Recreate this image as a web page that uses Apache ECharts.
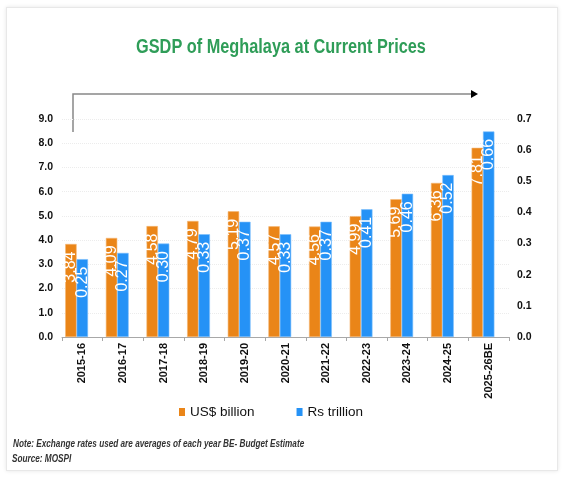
<!DOCTYPE html>
<html>
<head>
<meta charset="utf-8">
<script src="https://cdn.jsdelivr.net/npm/echarts@6/dist/echarts.min.js"></script>
<style>
html,body{margin:0;padding:0;background:#fff;}
#card{position:absolute;left:6px;top:7px;width:550px;height:462px;background:#fff;border:1px solid #e8e8e8;box-shadow:0 0 4px rgba(0,0,0,0.10);}
#chart{position:absolute;left:0;top:0;width:563px;height:478px;}
</style>
</head>
<body>
<div id="card"></div>
<div id="chart"></div>
<script>
const categories = ['2015-16','2016-17','2017-18','2018-19','2019-20','2020-21','2021-22','2022-23','2023-24','2024-25','2025-26BE'];
const usdBillion = [3.84, 4.09, 4.58, 4.79, 5.19, 4.57, 4.56, 4.99, 5.69, 6.36, 7.81];
const rsTrillion = [0.25, 0.27, 0.30, 0.33, 0.37, 0.33, 0.37, 0.41, 0.46, 0.52, 0.66];
const spacer = categories.map(() => null);
const leftTicks = {min: 0, max: 9, interval: 1};
const rightTicks = {min: 0, max: 0.7, interval: 0.1};

const SANS = "'Liberation Sans',Arial,sans-serif";

const chart = echarts.init(document.getElementById('chart'), null, {renderer: 'canvas'});

const labelCfg = {
  show: true,
  position: 'insideTop',
  distance: 9,
  rotate: 90,
  align: 'right',
  verticalAlign: 'middle',
  offset: [1.5, 0],
  color: '#fff',
  fontSize: 16,
  fontFamily: SANS,
  formatter: p => p.value.toFixed(2)
};

chart.setOption({
  animation: false,
  legend: {
    data: ['US$ billion', 'Rs trillion'],
    left: 179,
    top: 405,
    padding: 0,
    icon: 'rect',
    itemWidth: 6,
    itemHeight: 8,
    itemGap: 42,
    itemStyle: {borderWidth: 0},
    textStyle: {fontSize: 13.5, color: '#111', fontFamily: SANS}
  },
  grid: {left: 62, right: 54, top: 119, bottom: 141, containLabel: false},
  xAxis: {
    type: 'category',
    data: categories,
    axisLine: {lineStyle: {color: '#a8a8a8', width: 1}},
    axisTick: {show: true, length: 4, lineStyle: {color: '#a8a8a8'}},
    axisLabel: {rotate: 90, margin: 6, fontSize: 11, fontWeight: 'bold', color: '#111', fontFamily: SANS, interval: 0}
  },
  yAxis: [
    {
      type: 'value',
      min: leftTicks.min, max: leftTicks.max, interval: leftTicks.interval,
      axisLine: {show: false}, axisTick: {show: false},
      axisLabel: {margin: 9, fontSize: 10.5, fontWeight: 'bold', color: '#111', fontFamily: SANS, formatter: v => v.toFixed(1)},
      splitLine: {lineStyle: {color: '#ececec', width: 1, type: 'dotted'}}
    },
    {
      type: 'value',
      min: rightTicks.min, max: rightTicks.max, interval: rightTicks.interval,
      axisLine: {show: false}, axisTick: {show: false},
      axisLabel: {margin: 8, fontSize: 10.5, fontWeight: 'bold', color: '#111', fontFamily: SANS, formatter: v => v.toFixed(1)},
      splitLine: {show: false}
    }
  ],
  series: [
    {
      name: 'US$ billion', type: 'bar', yAxisIndex: 0, data: usdBillion,
      barWidth: 11.4, barGap: '0%',
      itemStyle: {color: '#ea8518', borderColor: '#f5b774', borderWidth: 0.6},
      label: labelCfg
    },
    {
      name: 'Rs trillion', type: 'bar', yAxisIndex: 1, data: rsTrillion,
      barWidth: 11.4, barGap: '0%',
      itemStyle: {color: '#2592f6', borderColor: '#7ec0fb', borderWidth: 0.6},
      label: labelCfg
    },
    {
      name: 'spacer', type: 'bar', yAxisIndex: 0, data: spacer,
      barWidth: 11.4, barGap: '0%', silent: true,
      itemStyle: {color: 'transparent'}
    }
  ],
  graphic: [
    {type: 'text', x: 281, y: 47, scaleX: 0.815, originX: 0, style: {text: 'GSDP of Meghalaya at Current Prices', x: 0, y: 0, align: 'center', verticalAlign: 'middle', fill: '#2f9d58', font: 'bold 20px ' + SANS}},
    {type: 'polyline', shape: {points: [[73, 132], [73, 94], [472, 94]]}, style: {stroke: '#888', lineWidth: 1.5, fill: null}},
    {type: 'polygon', shape: {points: [[471, 90], [478, 94], [471, 98]]}, style: {fill: '#000'}},
    {type: 'text', x: 13, y: 444, scaleX: 0.82, style: {text: 'Note: Exchange rates used are averages of each year BE- Budget Estimate', x: 0, y: 0, verticalAlign: 'middle', fill: '#333', font: 'italic bold 10px ' + SANS}},
    {type: 'text', x: 12, y: 459, scaleX: 0.82, style: {text: 'Source: MOSPI', x: 0, y: 0, verticalAlign: 'middle', fill: '#333', font: 'italic bold 10px ' + SANS}}
  ]
});
</script>
</body>
</html>
